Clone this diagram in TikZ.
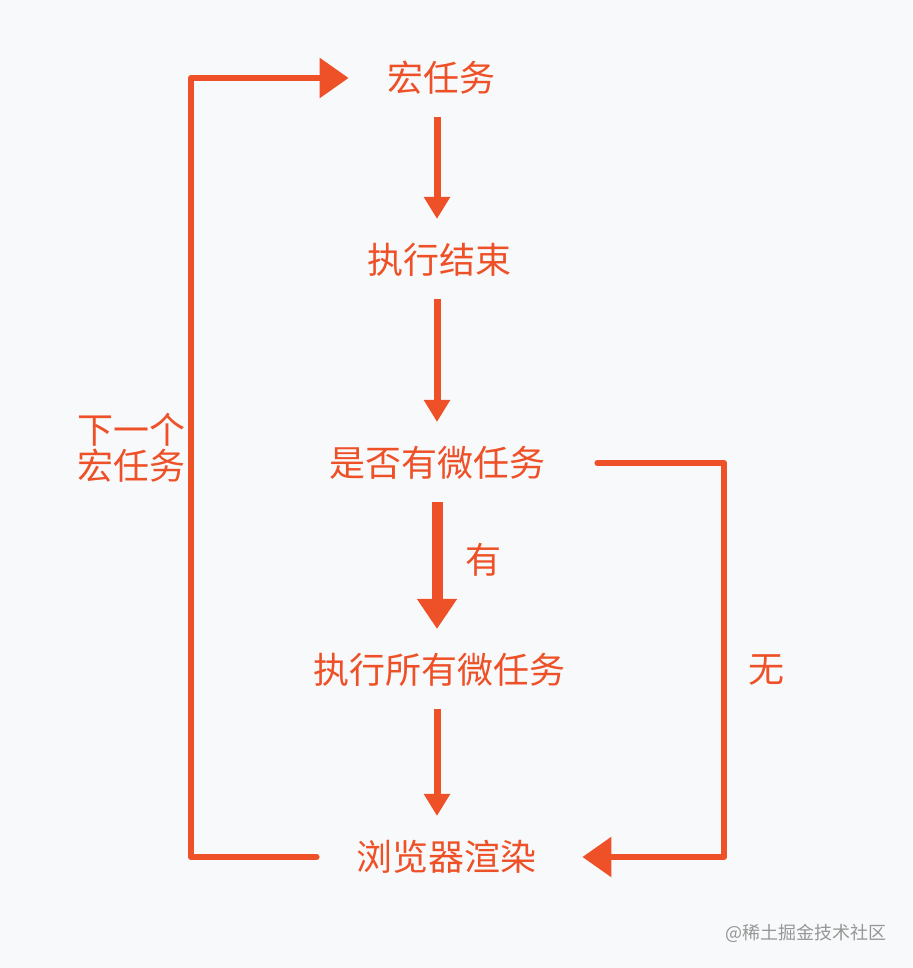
\documentclass[tikz,border=0pt]{standalone}
\usepackage{fontspec}
\setmainfont{Noto Sans CJK SC}
\usetikzlibrary{arrows.meta}
\definecolor{hot}{RGB}{238,81,40}
\definecolor{bg}{RGB}{248,249,250}
\definecolor{mark}{RGB}{150,150,150}
\tikzset{
    txt/.style={inner sep=0pt, text=hot, font=\fontsize{18}{18}\selectfont},
    down/.style={draw=hot, line width=3.5pt, shorten <=11pt, shorten >=12pt,
        -{Triangle[length=11pt,width=12.5pt]}},
    loopline/.style={draw=hot, line width=3pt, line cap=round, line join=round,
        -{Triangle[length=14.5pt,width=19.5pt]}}
}
\begin{document}
\begin{tikzpicture}[x=0.5pt, y=-0.5pt]
    \fill[bg] (0,0) rectangle (912,968);
    \useasboundingbox (0,0) rectangle (912,968);
    \node[txt] (macro) at (441,78) {宏任务};
    \node[txt] (done) at (439,260) {执行结束};
    \node[txt] (query) at (437,463) {是否有微任务};
    \node[txt] (all) at (439,670) {执行所有微任务};
    \node[txt] (render) at (446,857) {浏览器渲染};
    \node[txt] (yes) at (483,560) {有};
    \node[txt] (no) at (766,670) {无};
    \node[txt, align=center] (next) at (131,448) {下一个\\宏任务};
    \coordinate (lx) at (191,0);
    \coordinate (rx) at (724,0);
    \draw[down] ([xshift=-2pt]macro.south) -- ([xshift=-2pt]macro.south |- done.north);
    \draw[down] ([xshift=-1pt]done.south) -- ([xshift=-1pt]done.south |- query.north);
    \draw[down, line width=5.5pt, -{Triangle[length=15pt,width=19pt]}] (query.south) -- (query.south |- all.north);
    \draw[down] ([xshift=-1pt]all.south) -- ([xshift=-1pt]all.south |- render.north);
    \draw[loopline, shorten <=19.5pt, shorten >=19pt] (render.west) -- (render.west -| lx)
        -- (macro.west -| lx) -- (macro.west);
    \draw[loopline, shorten <=26pt, shorten >=23pt] (query.east) -- (query.east -| rx)
        -- (render.east -| rx) -- (render.east);
    \node[text=mark, font=\fontsize{9}{9}\selectfont, inner sep=0pt] (site) at (806,933) {@稀土掘金技术社区};
\end{tikzpicture}
\end{document}
